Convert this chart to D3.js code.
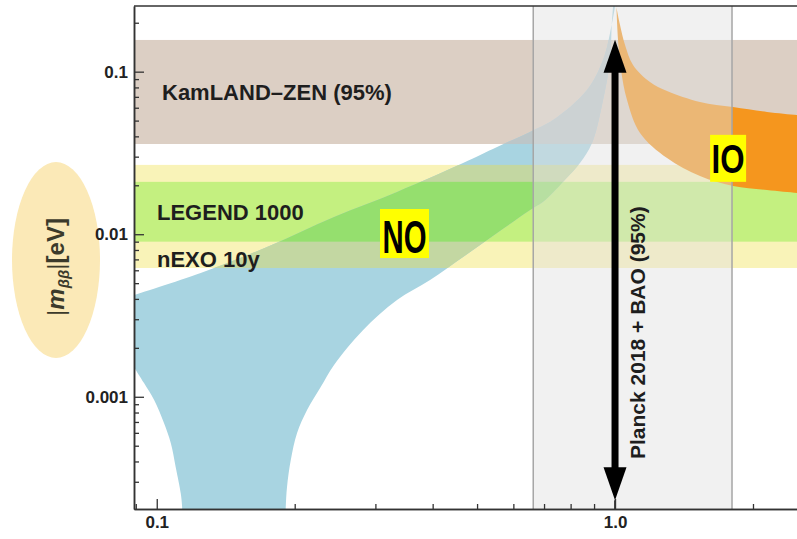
<!DOCTYPE html>
<html>
<head>
<meta charset="UTF-8" />
<script src="https://cdnjs.cloudflare.com/ajax/libs/d3/7.8.5/d3.min.js"></script>
<style>
  body { margin: 0; background: #fff; }
  text { font-family: "Liberation Sans", Arial, sans-serif; font-weight: bold; fill: #1e1e1e; }
  .axis path { stroke: #333; stroke-width: 1.5; }
  .axis line { stroke: #333; stroke-width: 1.3; }
  .axis text { font-size: 17px; fill: #222; }
</style>
</head>
<body>
<svg width="797" height="539"></svg>
<script>
// plot extents (eV)
var xDomain = [0.0892, 2.495];
var yDomain = [0.000204, 0.2535];

var xTickValues = [0.1, 1.0];
var xTickLabels = ["0.1", "1.0"];
var yTickValues = [0.001, 0.01, 0.1];
var yTickLabels = ["0.001", "0.01", "0.1"];

// experiment sensitivity bands
var bandNames = ["KamLAND\u2013ZEN (95%)", "nEXO 10y", "LEGEND 1000"];
var bandLow = [0.0359, 0.0062, 0.0090];
var bandHigh = [0.1567, 0.0267, 0.0210];

// normal ordering: upper edge left->right, lower edge right->left
var noUpper = [[0.0892, 0.00422], [0.1247, 0.00577], [0.174, 0.00834], [0.2437, 0.01276],
  [0.3344, 0.0182], [0.466, 0.0274], [0.5528, 0.0344], [0.6525, 0.0426], [0.7325, 0.0504],
  [0.8688, 0.0772], [0.9415, 0.118], [0.9752, 0.173], [1.0, 0.27]];
var noLower = [[0.996, 0.27], [0.985, 0.208], [0.9752, 0.118], [0.9415, 0.067], [0.8909, 0.0364],
  [0.8386, 0.0274], [0.7777, 0.0216], [0.7037, 0.0162], [0.6525, 0.0141], [0.5528, 0.01017],
  [0.466, 0.00724], [0.3948, 0.00523], [0.3344, 0.00394], [0.2818, 0.00257], [0.2437, 0.00157],
  [0.2279, 0.001147], [0.2128, 0.000828], [0.2024, 0.000598], [0.1961, 0.000408], [0.1924, 0.000278],
  [0.1912, 0.00021], [0.19, 0.00012], [0.114, 0.00012],
  [0.1136, 0.00021], [0.1128, 0.000255], [0.11, 0.000369], [0.1073, 0.000519], [0.1037, 0.000689],
  [0.0987, 0.000954], [0.0938, 0.001214], [0.0892, 0.00152]];

// inverted ordering
var ioUpper = [[1.003, 0.27], [1.005, 0.2573], [1.0254, 0.1938], [1.0515, 0.146], [1.0946, 0.11],
  [1.192, 0.0864], [1.2987, 0.0761], [1.5325, 0.0651], [1.809, 0.0606], [2.146, 0.0565],
  [2.495, 0.0541], [2.6, 0.0535]];
var ioLower = [[2.6, 0.0178], [2.495, 0.01795], [2.146, 0.0187], [1.809, 0.0198], [1.5325, 0.0228],
  [1.2987, 0.0294], [1.1337, 0.042], [1.0621, 0.067], [1.0306, 0.1024], [1.0152, 0.1567], [1.006, 0.27]];

var planckRange = [0.663, 1.80];
var arrowX = 1.0;
var arrowY = [0.000231, 0.157];

var svg = d3.select("svg");
var mLeft = 134, mRight = 797, mTop = 6, mBottom = 509;

var x = d3.scaleLog().domain(xDomain).range([mLeft, mRight]);
var y = d3.scaleLog().domain(yDomain).range([mBottom, mTop]);

var line = d3.line()
  .x(d => x(d[0]))
  .y(d => y(d[1]))
  .curve(d3.curveCatmullRom.alpha(0.5));

var noPath = line(noUpper.concat(noLower)) + "Z";
var ioPath = line(ioUpper.concat(ioLower)) + "Z";

var defs = svg.append("defs");
defs.append("clipPath").attr("id", "plot")
  .append("rect").attr("x", mLeft).attr("y", mTop)
  .attr("width", mRight - mLeft).attr("height", mBottom - mTop);
defs.append("clipPath").attr("id", "noClip")
  .append("path").attr("d", noPath);

// y label ellipse
svg.append("ellipse")
  .attr("cx", 56).attr("cy", 260).attr("rx", 44).attr("ry", 98)
  .attr("fill", "#fbe9b7");

var bands = bandNames.map((n, i) => ({name: n, lo: bandLow[i], hi: bandHigh[i]}));
var bandColor = ["#dccfc4", "#f9f3b8", "#c4f080"];
var overlapColor = ["#bcc6c8", "#c3d7a2", "#95df6e"];

var g = svg.append("g").attr("clip-path", "url(#plot)");

g.selectAll("rect.band")
  .data(bands)
  .join("rect")
  .attr("class", "band")
  .attr("x", mLeft).attr("width", mRight - mLeft)
  .attr("y", d => y(d.hi))
  .attr("height", d => y(d.lo) - y(d.hi))
  .attr("fill", (d, i) => bandColor[i]);

g.append("path").attr("d", noPath).attr("fill", "#a8d4e1");

g.append("g").attr("clip-path", "url(#noClip)")
  .selectAll("rect")
  .data(bands)
  .join("rect")
  .attr("x", mLeft).attr("width", mRight - mLeft)
  .attr("y", d => y(d.hi))
  .attr("height", d => y(d.lo) - y(d.hi))
  .attr("fill", (d, i) => overlapColor[i]);

g.append("path").attr("d", ioPath).attr("fill", "#f5961e");

// Planck + BAO band
g.append("rect")
  .attr("x", x(planckRange[0])).attr("width", x(planckRange[1]) - x(planckRange[0]))
  .attr("y", mTop).attr("height", mBottom - mTop)
  .attr("fill", "#e0e0e0").attr("fill-opacity", 0.45);
g.selectAll("line.pl")
  .data(planckRange)
  .join("line")
  .attr("class", "pl")
  .attr("x1", d => x(d)).attr("x2", d => x(d))
  .attr("y1", mTop).attr("y2", mBottom)
  .attr("stroke", "#a6a6a6").attr("stroke-width", 1.5);

// band labels
var labelY = [100, 267, 220];
var labelX = [162, 157, 157];
svg.selectAll("text.bandlabel")
  .data(bands)
  .join("text")
  .attr("class", "bandlabel")
  .attr("x", (d, i) => labelX[i])
  .attr("y", (d, i) => labelY[i])
  .style("font-size", "22px")
  .text(d => d.name);

// arrow
var ax = x(arrowX), ay1 = y(arrowY[1]), ay0 = y(arrowY[0]);
svg.append("line")
  .attr("x1", ax).attr("x2", ax)
  .attr("y1", ay1 + 30).attr("y2", ay0 - 30)
  .attr("stroke", "#000").attr("stroke-width", 7);
svg.append("path")
  .attr("d", `M${ax},${ay1} L${ax - 11.5},${ay1 + 33} L${ax + 11.5},${ay1 + 33} Z`)
  .attr("fill", "#000");
svg.append("path")
  .attr("d", `M${ax},${ay0} L${ax - 11.5},${ay0 - 33} L${ax + 11.5},${ay0 - 33} Z`)
  .attr("fill", "#000");
svg.append("line")
  .attr("x1", ax).attr("x2", ax).attr("y1", ay0).attr("y2", mBottom)
  .attr("stroke", "#000").attr("stroke-width", 1.5);

svg.append("text")
  .attr("transform", `translate(${ax + 30},459) rotate(-90)`)
  .style("font-size", "21px")
  .text("Planck 2018 + BAO (95%)");

// NO / IO tags
function tag(label, cx, cy, w, h, fs, tw, base) {
  var px = x(cx), py = y(cy);
  svg.append("rect")
    .attr("x", px - w / 2).attr("y", py - h / 2)
    .attr("width", w).attr("height", h)
    .attr("fill", "#ffff00");
  svg.append("text")
    .attr("x", px).attr("y", py + base)
    .attr("text-anchor", "middle")
    .attr("textLength", tw).attr("lengthAdjust", "spacingAndGlyphs")
    .style("font-size", fs + "px").style("fill", "#000")
    .text(label);
}
tag("NO", 0.3472, 0.0101, 49, 49, 46, 44, 19.5);
tag("IO", 1.765, 0.0293, 36, 47, 41, 33, 14.7);

// axes
var yMinor = y.ticks().filter(v => yTickValues.indexOf(v) < 0);
var xMinor = x.ticks().filter(v => Math.abs(Math.log10(v) - Math.round(Math.log10(v))) > 1e-6);

svg.append("g").attr("class", "axis")
  .attr("transform", `translate(${mLeft},0)`)
  .call(d3.axisLeft(y).tickValues(yMinor).tickSize(-5).tickSizeOuter(0).tickFormat(""));
svg.append("g").attr("class", "axis")
  .attr("transform", `translate(${mLeft},0)`)
  .call(d3.axisLeft(y).tickValues(yTickValues).tickSize(-10).tickSizeOuter(0).tickPadding(6)
    .tickFormat((d, i) => yTickLabels[i]));

svg.append("g").attr("class", "axis")
  .attr("transform", `translate(0,${mBottom})`)
  .call(d3.axisBottom(x).tickValues(xMinor).tickSize(-5).tickSizeOuter(0).tickFormat(""));
svg.append("g").attr("class", "axis")
  .attr("transform", `translate(0,${mBottom})`)
  .call(d3.axisBottom(x).tickValues(xTickValues).tickSize(-10).tickSizeOuter(0).tickPadding(7)
    .tickFormat((d, i) => xTickLabels[i]));

svg.append("line")
  .attr("x1", mLeft).attr("x2", mRight).attr("y1", mTop).attr("y2", mTop)
  .attr("stroke", "#333").attr("stroke-width", 1.5);

// y label
var yl = svg.append("text")
  .attr("transform", "translate(64,267) rotate(-90)")
  .attr("text-anchor", "middle")
  .style("font-size", "24px").style("fill", "#3b3a2b");
yl.append("tspan").style("font-weight", "normal").text("|");
yl.append("tspan").style("font-style", "italic").text("m");
yl.append("tspan").style("font-style", "italic").style("font-size", "15px").attr("dy", 5).text("\u03b2\u03b2");
yl.append("tspan").attr("dy", -5).style("font-weight", "normal").text("|");
yl.append("tspan").text("[eV]");
</script>
</body>
</html>
